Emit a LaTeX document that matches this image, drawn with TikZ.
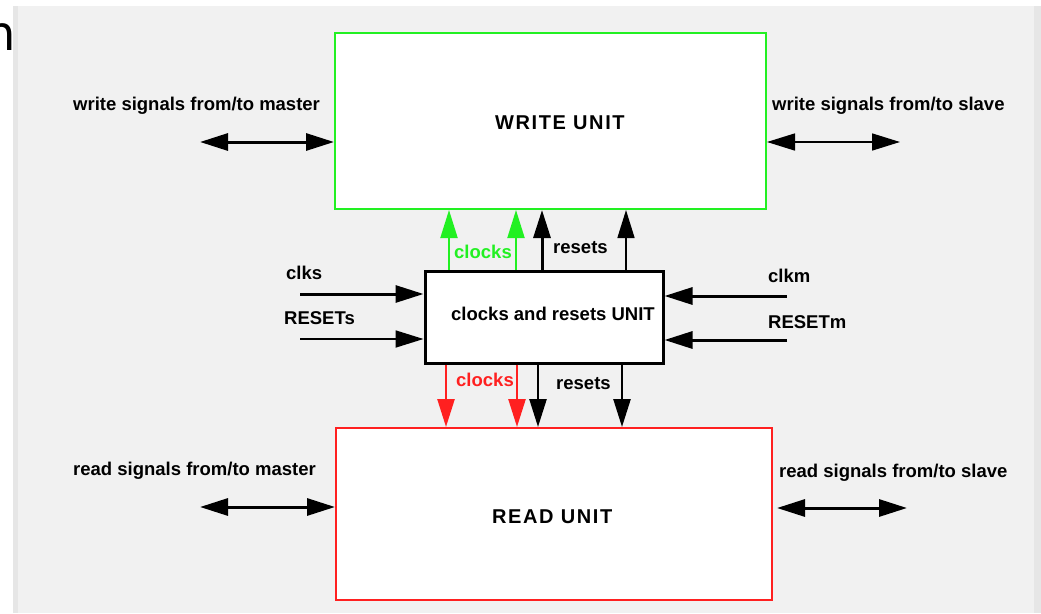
\documentclass[tikz,border=0pt]{standalone}
\usepackage{fontspec}
\setmainfont{Liberation Sans}
\newfontfamily\spacedfont[LetterSpace=8]{Liberation Sans}
\newfontfamily\fragfont{DejaVu Sans}
\usetikzlibrary{arrows.meta}
\definecolor{bgc}{HTML}{F1F1F1}
\definecolor{edgec}{HTML}{E6E6E6}
\definecolor{grn}{HTML}{22F022}
\definecolor{rd}{HTML}{FF2020}
\tikzset{
  unitbox/.style={draw, fill=white, inner sep=0pt, line width=#1},
  lbl/.style={anchor=base west, inner sep=0pt, font=\bfseries\fontsize{18.5}{20}\selectfont},
  biglbl/.style={anchor=base west, inner sep=0pt, font=\spacedfont\bfseries\fontsize{20}{22}\selectfont},
  tipend/.style={-{Triangle[length=28pt,width=17pt]}},
  tipboth/.style={{Triangle[length=28pt,width=17pt]}-{Triangle[length=28pt,width=17pt]}},
}
\begin{document}
\begin{tikzpicture}[x=1pt,y=-1pt]
\useasboundingbox (0,0) rectangle (1041,613);
% background
\fill[white] (0,0) rectangle (1041,613);
\fill[edgec] (13,6) rectangle (1041,613);
\fill[bgc] (18,6) rectangle (1034,613);
\node[anchor=base east, inner sep=0pt, font=\fragfont\fontsize{48}{50}\selectfont] (frag) at (16,50) {n};

% units
\node[unitbox=2pt, draw=grn, minimum width=431pt, minimum height=176pt] (wu) at (550.5,121) {};
\node[unitbox=2pt, draw=rd, minimum width=436pt, minimum height=172pt] (ru) at (554,514) {};
\node[unitbox=3pt, draw=black, minimum width=238pt, minimum height=92pt] (cr) at (544,317) {};

\node[biglbl] (wut) at (495,129) {WRITE UNIT};
\node[biglbl] (rut) at (492,523) {READ UNIT};
\node[lbl] (crt) at (451,320.5) {clocks and resets UNIT};

% side labels
\node[lbl] (wm) at (73,110.5) {write signals from/to master};
\node[lbl] (ws) at (772,110.5) {write signals from/to slave};
\node[lbl] (rm) at (73,475.5) {read signals from/to master};
\node[lbl] (rs) at (779,477) {read signals from/to slave};
\node[lbl] (clks) at (286,279.5) {clks};
\node[lbl] (rsts) at (284,324.5) {RESETs};
\node[lbl] (clkm) at (768,282.5) {clkm};
\node[lbl] (rstm) at (768,328.5) {RESETm};
\node[lbl, text=grn] (gclk) at (454,258.5) {clocks};
\node[lbl] (trst) at (553,253.5) {resets};
\node[lbl, text=rd] (rclk) at (456,386.5) {clocks};
\node[lbl] (brst) at (556,389.5) {resets};

% helper coordinates
\coordinate (g1) at (449,0);
\coordinate (g2) at (516,0);
\coordinate (b1) at (542,0);
\coordinate (b2) at (626,0);
\coordinate (r1) at (446,0);
\coordinate (r2) at (517,0);
\coordinate (d1) at (538,0);
\coordinate (d2) at (622,0);
\coordinate (clksS) at (300,294);
\coordinate (rstsS) at (300,339);
\coordinate (clkmS) at (787,296);
\coordinate (rstmS) at (787,340);
\coordinate (wmE) at (200,142);
\coordinate (wsE) at (900,142);
\coordinate (rmE) at (200,507);
\coordinate (rsE) at (907,508);

% up arrows
\draw[tipend, grn, line width=2pt] (cr.north -| g1) -- (wu.south -| g1);
\draw[tipend, grn, line width=2pt] (cr.north -| g2) -- (wu.south -| g2);
\draw[tipend, black, line width=3pt] (cr.north -| b1) -- (wu.south -| b1);
\draw[tipend, black, line width=1.6pt] (cr.north -| b2) -- (wu.south -| b2);
% down arrows
\draw[tipend, rd, line width=2.5pt] (cr.south -| r1) -- (ru.north -| r1);
\draw[tipend, rd, line width=2.5pt] (cr.south -| r2) -- (ru.north -| r2);
\draw[tipend, black, line width=2.5pt] (cr.south -| d1) -- (ru.north -| d1);
\draw[tipend, black, line width=2.5pt] (cr.south -| d2) -- (ru.north -| d2);
% inputs
\draw[tipend, line width=3pt] (clksS) -- (cr.west |- clksS);
\draw[tipend, line width=1.8pt] (rstsS) -- (cr.west |- rstsS);
\draw[tipend, line width=3pt] (clkmS) -- (cr.east |- clkmS);
\draw[tipend, line width=3pt] (rstmS) -- (cr.east |- rstmS);
% side bidirectional
\draw[tipboth, line width=3pt] (wmE) -- (wu.west |- wmE);
\draw[tipboth, line width=1.6pt] (wu.east |- wsE) -- (wsE);
\draw[tipboth, line width=3pt] (rmE) -- (ru.west |- rmE);
\draw[tipboth, line width=3pt] ([xshift=4pt]ru.east |- rsE) -- (rsE);
\end{tikzpicture}
\end{document}
